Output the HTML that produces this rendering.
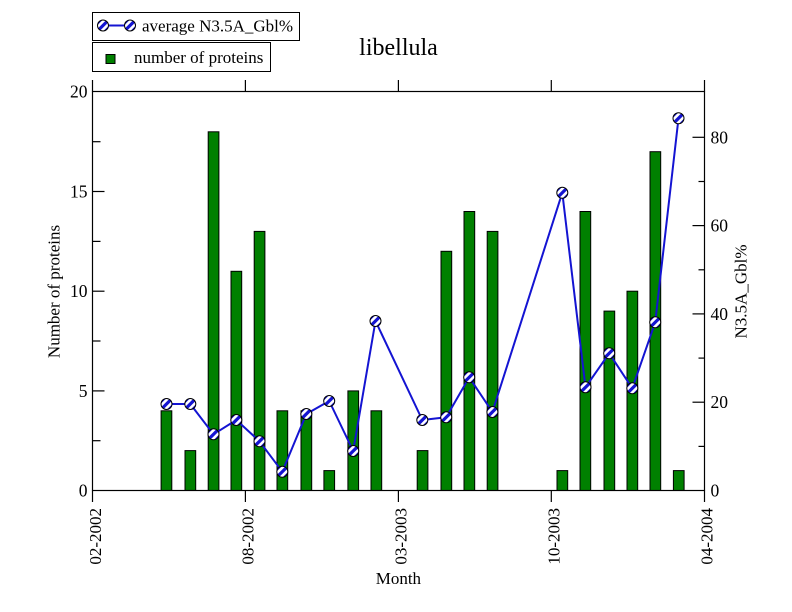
<!DOCTYPE html>
<html><head><meta charset="utf-8"><style>
html,body{margin:0;padding:0;background:#fff;}
svg{display:block;}
text{font-family:"Liberation Serif",serif;fill:#000;}
</style></head><body>
<svg width="792" height="612" viewBox="0 0 792 612" xmlns="http://www.w3.org/2000/svg">
<defs>
<clipPath id="cc"><circle cx="0" cy="0" r="5.3"/></clipPath>
<g id="m">
<circle cx="0" cy="0" r="5.5" fill="#fff"/>
<g clip-path="url(#cc)" stroke="#1414d2">
<line x1="-8" y1="8" x2="8" y2="-8" stroke-width="3.2"/>
<line x1="-11.5" y1="4.5" x2="4.5" y2="-11.5" stroke-width="1.6"/>
<line x1="-4.5" y1="11.5" x2="11.5" y2="-4.5" stroke-width="1.6"/>
</g>
<circle cx="0" cy="0" r="5.5" fill="none" stroke="#000" stroke-width="1"/>
</g>
</defs>
<rect width="792" height="612" fill="#fff"/>

<!-- bars -->
<g fill="#008000" stroke="#000" stroke-width="1">
<rect x="161.1" y="410.8" width="10.7" height="79.7"/>
<rect x="185.0" y="450.6" width="10.7" height="39.9"/>
<rect x="208.2" y="131.8" width="10.7" height="358.7"/>
<rect x="231.0" y="271.3" width="10.7" height="219.2"/>
<rect x="254.2" y="231.4" width="10.7" height="259.1"/>
<rect x="277.0" y="410.8" width="10.7" height="79.7"/>
<rect x="301.0" y="410.8" width="10.7" height="79.7"/>
<rect x="323.9" y="470.6" width="10.7" height="19.9"/>
<rect x="347.9" y="390.9" width="10.7" height="99.6"/>
<rect x="371.0" y="410.8" width="10.7" height="79.7"/>
<rect x="417.2" y="450.6" width="10.7" height="39.9"/>
<rect x="441.0" y="251.3" width="10.7" height="239.2"/>
<rect x="464.0" y="211.5" width="10.7" height="279.0"/>
<rect x="487.2" y="231.4" width="10.7" height="259.1"/>
<rect x="557.0" y="470.6" width="10.7" height="19.9"/>
<rect x="580.0" y="211.5" width="10.7" height="279.0"/>
<rect x="604.0" y="311.1" width="10.7" height="179.4"/>
<rect x="627.0" y="291.2" width="10.7" height="199.3"/>
<rect x="650.0" y="151.7" width="10.7" height="338.8"/>
<rect x="673.4" y="470.6" width="10.7" height="19.9"/>
</g>

<!-- frame -->
<rect x="92.5" y="91.5" width="612" height="399" fill="none" stroke="#000" stroke-width="1.2"/>

<!-- x ticks (outward top & bottom) -->
<g stroke="#000" stroke-width="1.2">
<line x1="92.5" y1="490.5" x2="92.5" y2="502"/>
<line x1="245.4" y1="490.5" x2="245.4" y2="502"/>
<line x1="398.4" y1="490.5" x2="398.4" y2="502"/>
<line x1="551.3" y1="490.5" x2="551.3" y2="502"/>
<line x1="704.5" y1="490.5" x2="704.5" y2="502"/>
<line x1="92.5" y1="91.5" x2="92.5" y2="80"/>
<line x1="245.4" y1="91.5" x2="245.4" y2="80"/>
<line x1="398.4" y1="91.5" x2="398.4" y2="80"/>
<line x1="551.3" y1="91.5" x2="551.3" y2="80"/>
<line x1="704.5" y1="91.5" x2="704.5" y2="80"/>
<!-- left ticks inward -->
<line x1="92.5" y1="390.9" x2="104.5" y2="390.9"/>
<line x1="92.5" y1="291.2" x2="104.5" y2="291.2"/>
<line x1="92.5" y1="191.5" x2="104.5" y2="191.5"/>
<line x1="92.5" y1="440.7" x2="100.5" y2="440.7"/>
<line x1="92.5" y1="341.0" x2="100.5" y2="341.0"/>
<line x1="92.5" y1="241.4" x2="100.5" y2="241.4"/>
<line x1="92.5" y1="141.7" x2="100.5" y2="141.7"/>
<!-- right ticks inward -->
<line x1="704.5" y1="402.2" x2="692.5" y2="402.2"/>
<line x1="704.5" y1="313.9" x2="692.5" y2="313.9"/>
<line x1="704.5" y1="225.6" x2="692.5" y2="225.6"/>
<line x1="704.5" y1="137.3" x2="692.5" y2="137.3"/>
<line x1="704.5" y1="446.4" x2="698.5" y2="446.4"/>
<line x1="704.5" y1="358.1" x2="698.5" y2="358.1"/>
<line x1="704.5" y1="269.8" x2="698.5" y2="269.8"/>
<line x1="704.5" y1="181.5" x2="698.5" y2="181.5"/>
</g>

<!-- left tick labels -->
<g font-size="17.5" text-anchor="end">
<text x="87.5" y="496.5">0</text>
<text x="87.5" y="396.8">5</text>
<text x="87.5" y="297.1">10</text>
<text x="87.5" y="197.4">15</text>
<text x="87.5" y="97.7">20</text>
</g>
<!-- right tick labels -->
<g font-size="17.5" text-anchor="start">
<text x="710.5" y="496.5">0</text>
<text x="710.5" y="408.2">20</text>
<text x="710.5" y="319.9">40</text>
<text x="710.5" y="231.6">60</text>
<text x="710.5" y="143.3">80</text>
</g>
<!-- x tick labels rotated -->
<g font-size="17" text-anchor="end">
<text transform="translate(100.8,508) rotate(-90)">02-2002</text>
<text transform="translate(253.6,508) rotate(-90)">08-2002</text>
<text transform="translate(406.6,508) rotate(-90)">03-2003</text>
<text transform="translate(559.5,508) rotate(-90)">10-2003</text>
<text transform="translate(712.5,508) rotate(-90)">04-2004</text>
</g>

<!-- axis labels -->
<text x="398.4" y="584" font-size="17" text-anchor="middle">Month</text>
<text transform="translate(59.5,291.5) rotate(-90)" font-size="17" text-anchor="middle">Number of proteins</text>
<text transform="translate(746.5,291.5) rotate(-90)" font-size="17" text-anchor="middle">N3.5A_Gbl%</text>

<!-- title -->
<text x="398.5" y="55" font-size="24" text-anchor="middle">libellula</text>

<!-- line series -->
<polyline fill="none" stroke="#1414d2" stroke-width="2" stroke-linejoin="round"
points="166.5,404 190.3,404 213.5,434.3 236.3,420 259.5,441.3 282.3,471.7 306.3,414 329.2,401 353.2,451 375.5,321 422.3,420 446.2,417.3 469.2,377.3 492.4,412 562.3,192.7 585.5,387.3 609.2,353.3 632.3,388.3 655.2,322.3 678.5,118.3"/>
<use href="#m" x="166.5" y="404"/>
<use href="#m" x="190.3" y="404"/>
<use href="#m" x="213.5" y="434.3"/>
<use href="#m" x="236.3" y="420"/>
<use href="#m" x="259.5" y="441.3"/>
<use href="#m" x="282.3" y="471.7"/>
<use href="#m" x="306.3" y="414"/>
<use href="#m" x="329.2" y="401"/>
<use href="#m" x="353.2" y="451"/>
<use href="#m" x="375.5" y="321"/>
<use href="#m" x="422.3" y="420"/>
<use href="#m" x="446.2" y="417.3"/>
<use href="#m" x="469.2" y="377.3"/>
<use href="#m" x="492.4" y="412"/>
<use href="#m" x="562.3" y="192.7"/>
<use href="#m" x="585.5" y="387.3"/>
<use href="#m" x="609.2" y="353.3"/>
<use href="#m" x="632.3" y="388.3"/>
<use href="#m" x="655.2" y="322.3"/>
<use href="#m" x="678.5" y="118.3"/>

<!-- legend -->
<rect x="92.5" y="12.5" width="207" height="28" fill="#fff" stroke="#000" stroke-width="1"/>
<line x1="103" y1="25.5" x2="130" y2="25.5" stroke="#1414d2" stroke-width="2"/>
<use href="#m" x="103" y="25.5"/>
<use href="#m" x="130" y="25.5"/>
<text x="142" y="31.5" font-size="17">average N3.5A_Gbl%</text>

<rect x="92.5" y="42.5" width="178" height="29" fill="#fff" stroke="#000" stroke-width="1"/>
<rect x="106" y="54.5" width="9" height="9" fill="#008000" stroke="#000" stroke-width="1"/>
<text x="134" y="63" font-size="17">number of proteins</text>
</svg>
</body></html>
